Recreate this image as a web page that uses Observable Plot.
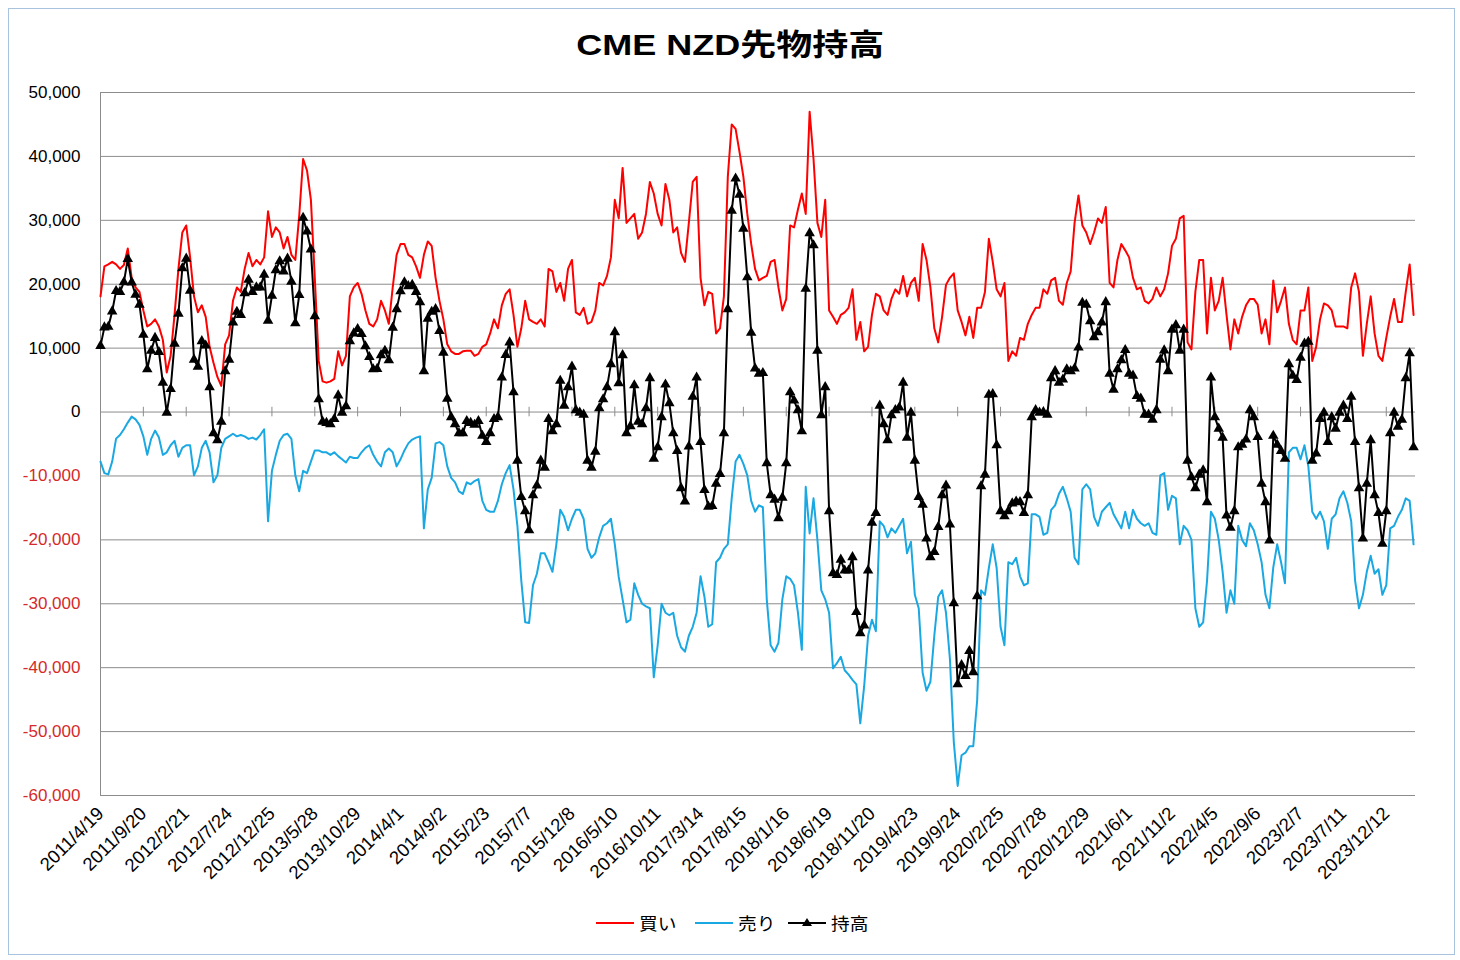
<!DOCTYPE html>
<html>
<head>
<meta charset="utf-8">
<script src="https://cdn.jsdelivr.net/npm/d3@7"></script>
<script src="https://cdn.jsdelivr.net/npm/@observablehq/plot@0.6"></script>
<style>
  html, body { margin: 0; padding: 0; background: #fff; }
  #wrap { position: relative; width: 1460px; height: 960px; overflow: hidden;
          font-family: "Liberation Sans", "Noto Sans CJK JP", sans-serif; }
  #frame { position: absolute; left: 8px; top: 8px; width: 1447px; height: 947px;
           border: 1px solid #a7c3de; box-sizing: border-box; }
  #title { position: absolute; left: 0; top: 27px; width: 1460px; text-align: center;
           font-size: 30px; font-weight: bold; line-height: 36px; color: #000;
           font-family: "Liberation Sans", "Noto Sans CJK JP", sans-serif; }
  #title span { display: inline-block; transform: scaleX(1.2); transform-origin: center; }
  #chart { position: absolute; left: 0; top: 75px; }
  #legend { position: absolute; left: 0; top: 905px; width: 1460px; height: 34px;
            font-family: "Noto Sans CJK JP", sans-serif; font-size: 17px; color: #000; }
  .lg { position: absolute; top: 0; height: 34px; display: flex; align-items: center; }
</style>
</head>
<body>
<div id="wrap">
  <div id="frame"></div>
  <div id="title"><span>CME NZD先物持高</span></div>
  <div id="chart"></div>
  <div id="legend"></div>
</div>
<script>
// ---- data: every second week starting 2011/4/19 ----
const startDate = "2011-04-19";
const stepDays = 14;

const buy = [
18100,22800,23100,23500,23100,22400,23000,25600,21000,19500,
18800,15900,13400,13800,14500,13400,11300,6200,8800,15200,
22400,28100,29200,24200,18100,15600,16700,14900,10200,7700,
5500,4100,10600,12000,17400,19500,18800,22400,24900,22800,
23800,23100,24200,31400,27400,28900,28100,25600,27400,24600,
23800,30700,39600,37800,33200,21000,8000,
4800,4600,4800,5200,9500,7300,8800,18100,19500,20200,
18500,15900,13800,13400,14500,17400,15900,13800,19500,24600,
26300,26300,24600,24200,22800,21000,24600,26700,26000,21000,
17400,14500,10600,9500,9100,9100,9500,9600,9600,8800,
9100,10200,10600,12300,14500,13100,16700,18500,19200,15200,
10200,13100,17400,14500,14100,13800,14500,
13400,22400,22000,18800,20200,17400,22400,23800,15600,15200,
16300,13800,14100,15900,20200,19800,21300,24200,33200,30300,
38200,29600,30300,31000,27100,28100,31000,36000,34200,31000,
29200,35700,33200,28100,28900,24900,23500,29600,36000,36800,
21000,16700,18800,18500,12300,13100,18100,36800,45000,44300,
40700,36800,31000,26300,22400,20600,
21000,21300,23500,23800,19500,15900,17700,29200,28900,31700,
34200,31000,47000,39600,29600,27400,33200,15900,14900,13800,
15200,15600,16300,19200,11300,14100,9500,10200,15200,18500,
18100,15900,15200,17700,19200,18500,21300,18100,20200,21000,
17400,26300,23800,19500,13100,10900,14900,19900,21000,21700,
15900,14100,12000,14900,11600,16300,
16300,18800,27100,23500,19200,18100,20200,8000,9500,8800,
11600,11300,13800,15200,16300,16300,19200,18500,20600,21000,
17400,16800,20200,22000,29600,33900,29200,28100,26300,28100,
30300,29600,32100,20200,19500,23800,26300,25300,24200,21000,
19200,19500,17400,17000,17700,19500,18100,19200,21700,26000,
27100,30300,30700,10900,9800,18800,23800,
23800,12300,21000,15900,17400,21000,15200,9800,14500,12300,
14900,16700,17700,17700,16800,12300,14500,10600,20600,15600,
17400,19500,13800,11300,10600,15900,15900,19500,8000,10200,
14500,17000,16700,15900,13400,13400,13400,13100,19500,21700,
18800,8800,13800,18100,12300,8800,8000,11600,14900,17700,
14100,14100,18800,23100,15200
];

const sell = [
-7750,-9550,-9750,-7750,-4160,-3600,-2700,-1650,-720,-1150,
-2000,-3800,-6700,-4200,-2900,-4000,-6700,-6300,-5200,-4500,
-7000,-5600,-5200,-5200,-9900,-8500,-5600,-4500,-6300,-11000,
-9900,-5600,-4200,-3800,-3400,-3800,-3600,-3800,-4200,-4000,
-4300,-3600,-2700,-17100,-9200,-6700,-4500,-3600,-3400,-4200,
-9900,-12400,-9200,-9550,-7750,-6000,-6000,
-6300,-6300,-6700,-6300,-6900,-7400,-7900,-7000,-7200,-7200,
-6300,-5600,-5200,-6700,-7750,-8500,-6300,-5700,-6300,-8500,
-7400,-6000,-4900,-4300,-4000,-3800,-18200,-12100,-10300,-4900,
-4700,-5200,-8500,-10300,-11000,-12400,-12800,-11000,-11300,-10800,
-10500,-13900,-15300,-15600,-15600,-13900,-11300,-9550,-8300,-12100,
-17800,-26400,-32900,-33000,-27100,-25300,-22100,
-22100,-23500,-25000,-20700,-15300,-16400,-18500,-16700,-15300,-15300,
-16700,-21400,-22800,-22100,-19600,-17800,-17400,-16700,-20700,-25800,
-29300,-32900,-32500,-26800,-28600,-30000,-30400,-30700,-41500,-36500,
-30000,-31400,-31800,-31400,-35000,-36800,-37500,-35000,-33600,-31400,
-25700,-28900,-33600,-33200,-23500,-22800,-21400,-20700,-13500,-7750,
-6700,-8100,-9900,-13900,-15600,-14600,
-14900,-29300,-36500,-37500,-36100,-29300,-25700,-26100,-27100,-31400,
-37200,-11700,-19000,-13500,-20000,-27900,-29300,-31400,-40100,-39300,
-38300,-40400,-41100,-41900,-42600,-48700,-42900,-35000,-32500,-34300,
-17100,-17800,-19600,-18200,-18900,-17800,-16700,-22100,-20300,-28600,
-30700,-40800,-43600,-42200,-35000,-28900,-27900,-31400,-38600,-51600,
-58500,-53700,-53300,-52300,-52300,-45100,
-27900,-28600,-24400,-20700,-24400,-33600,-36500,-23500,-23800,-22800,
-25700,-27100,-26800,-16000,-16000,-16400,-19200,-18900,-15300,-14600,
-12800,-11700,-13500,-15600,-22800,-23800,-12100,-11300,-12100,-16400,
-17800,-15600,-14900,-14200,-16000,-17100,-18200,-15600,-18200,-15300,
-16700,-17400,-17800,-17400,-18900,-19200,-9900,-9550,-15300,-13100,
-13500,-20700,-17800,-18500,-20000,-30700,-33600,
-32900,-26400,-15600,-16700,-20000,-25000,-31400,-27900,-30000,-17800,
-20000,-21000,-17400,-18500,-20700,-23500,-28600,-30700,-24300,-20700,
-23500,-26800,-6300,-5600,-5600,-7400,-5200,-8500,-15600,-16700,
-15600,-17100,-21400,-16700,-16000,-13500,-12400,-14200,-17100,-26400,
-30700,-28600,-25000,-22500,-25300,-24600,-28600,-27100,-18200,-17800,
-16400,-15300,-13500,-13900,-20700
];

const tickLabels = ["2011/4/19","2011/9/20","2012/2/21","2012/7/24","2012/12/25","2013/5/28",
  "2013/10/29","2014/4/1","2014/9/2","2015/2/3","2015/7/7","2015/12/8","2016/5/10",
  "2016/10/11","2017/3/14","2017/8/15","2018/1/16","2018/6/19","2018/11/20","2019/4/23",
  "2019/9/24","2020/2/25","2020/7/28","2020/12/29","2021/6/1","2021/11/2","2022/4/5",
  "2022/9/6","2023/2/7","2023/7/11","2023/12/12"];

const yTicks = [50000,40000,30000,20000,10000,0,-10000,-20000,-30000,-40000,-50000,-60000];

const seriesNames = ["買い", "売り", "持高"];
const seriesColors = ["#ff0000", "#1aa8e2", "#000000"];

// ---- build ----
const parseYMD = s => { const [y, m, d] = s.split(/[-\/]/).map(Number); return new Date(Date.UTC(y, m - 1, d)); };
const t0 = parseYMD(startDate);
const rows = buy.map((b, i) => ({
  date: d3.utcDay.offset(t0, stepDays * i),
  buy: b, sell: sell[i], net: b + sell[i]
}));
const tickDates = tickLabels.map(parseYMD);
const tEnd = d3.utcDay.offset(t0, 7 * 675);
const fmtY = d => (d < 0 ? "-" : "") + d3.format(",")(Math.abs(d));
const fmtX = d3.utcFormat("%Y/%-m/%-d");

const chart = Plot.plot({
  width: 1460,
  height: 830,
  marginLeft: 100,
  marginRight: 45,
  marginTop: 17,
  marginBottom: 110,
  style: { fontFamily: "'Liberation Sans', 'Noto Sans CJK JP', sans-serif", background: "transparent" },
  x: { type: "utc", domain: [t0, tEnd] },
  y: { domain: [-60000, 50000] },
  marks: [
    Plot.ruleY(yTicks, { stroke: "#8c8c8c", strokeWidth: 1 }),
    Plot.ruleX([t0], { y1: -60000, y2: 50000, stroke: "#8c8c8c", strokeWidth: 1 }),
    Plot.ruleX(tickDates, { y1: -750, y2: 750, stroke: "#8c8c8c", strokeWidth: 1 }),
    Plot.axisY(yTicks.filter(d => d >= 0), { tickFormat: fmtY, tickSize: 0, tickPadding: 20, fontSize: 17, fill: "#000", label: null }),
    Plot.axisY(yTicks.filter(d => d < 0), { tickFormat: fmtY, tickSize: 0, tickPadding: 20, fontSize: 17, fill: "#d42a2a", label: null }),
    Plot.axisX(tickDates, { tickFormat: fmtX, tickRotate: -45, tickSize: 0, tickPadding: 15, fontSize: 18.5, fill: "#000", label: null }),
    Plot.line(rows, { x: "date", y: "buy", stroke: seriesColors[0], strokeWidth: 2 }),
    Plot.line(rows, { x: "date", y: "sell", stroke: seriesColors[1], strokeWidth: 2 }),
    Plot.line(rows, { x: "date", y: "net", stroke: seriesColors[2], strokeWidth: 2 }),
    Plot.dot(rows, { x: "date", y: "net", symbol: "triangle", fill: "#000", stroke: "none", r: 3.9 })
  ]
});
document.getElementById("chart").appendChild(chart);

// ---- legend ----
const legend = document.getElementById("legend");
const items = [
  { left: 596, name: seriesNames[0], color: seriesColors[0], marker: false },
  { left: 695, name: seriesNames[1], color: seriesColors[1], marker: false },
  { left: 788, name: seriesNames[2], color: seriesColors[2], marker: true }
];
for (const it of items) {
  const div = document.createElement("div");
  div.className = "lg";
  div.style.left = it.left + "px";
  div.innerHTML = `<svg width="40" height="34" style="margin-right:3px"><line x1="0" x2="38" y1="18" y2="18" stroke="${it.color}" stroke-width="2"/>` +
    (it.marker ? `<path d="M19,13 L24,21 L14,21 Z" fill="#000"/>` : "") +
    `</svg><span style="transform:scaleX(1.1);display:inline-block;transform-origin:left">${it.name}</span>`;
  legend.appendChild(div);
}
</script>
</body>
</html>
